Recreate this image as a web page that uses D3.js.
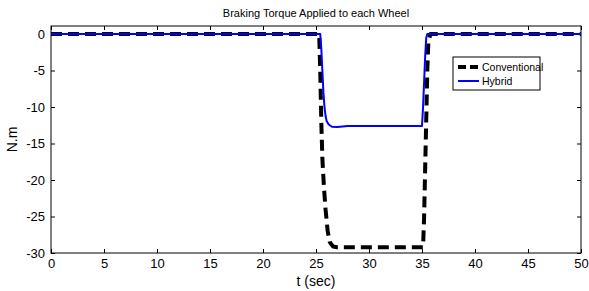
<!DOCTYPE html>
<html>
<head>
<meta charset="utf-8">
<script src="https://cdn.jsdelivr.net/npm/d3@7"></script>
<style>
  body { margin: 0; background: #fff; }
  svg { display: block; font-family: "Liberation Sans", Arial, sans-serif; }
</style>
</head>
<body>
<div class="chart"></div>
<script>
// values
const convT = [0, 25.3, 25.4, 25.5, 25.6, 25.75, 25.9, 26.1, 26.3, 26.6, 27, 35.1, 35.2, 35.35, 35.5, 35.6, 35.8, 50];
const convV = [0, 0, -5, -12, -17, -21, -24, -27, -28.5, -29.1, -29.2, -29.2, -25, -15, -5, -1, 0, 0];
const hybT = [0, 25.4, 25.5, 25.6, 25.7, 25.8, 25.9, 26.0, 26.2, 26.5, 27, 28, 35.0, 35.1, 35.3, 35.4, 35.5, 50];
const hybV = [0, 0, -2, -5, -8, -10, -11.2, -11.9, -12.4, -12.7, -12.75, -12.6, -12.6, -10, -3, -0.5, 0, 0];
const xTicks = [0, 5, 10, 15, 20, 25, 30, 35, 40, 45, 50];
const yTicks = [0, -5, -10, -15, -20, -25, -30];
const seriesNames = ["Conventional", "Hybrid"];

const width = 589;
const height = 291;
const marginTop = 26;
const marginRight = 8;
const marginBottom = 38;
const marginLeft = 51;

const x = d3.scaleLinear()
    .domain([0, 50])
    .range([marginLeft, width - marginRight]);

const y = d3.scaleLinear()
    .domain([-30, 1.1])
    .range([height - marginBottom, marginTop]);

const svg = d3.select('.chart').append("svg")
    .attr("width", width)
    .attr("height", height);

// axes box
svg.append("rect")
    .attr("x", marginLeft)
    .attr("y", marginTop)
    .attr("width", width - marginRight - marginLeft)
    .attr("height", height - marginBottom - marginTop)
    .attr("fill", "none")
    .attr("stroke", "#000")
    .attr("stroke-width", 1);

const plain = d => String(d);

// bottom axis
const gx = svg.append("g")
    .attr("transform", `translate(0,${height - marginBottom})`)
    .call(d3.axisBottom(x).tickValues(xTicks).tickFormat(plain).tickSizeInner(-4).tickSizeOuter(0).tickPadding(6));
// top ticks
const gxTop = svg.append("g")
    .attr("transform", `translate(0,${marginTop})`)
    .call(d3.axisTop(x).tickValues(xTicks).tickSizeInner(-4).tickSizeOuter(0).tickFormat(""));
// left axis
const gy = svg.append("g")
    .attr("transform", `translate(${marginLeft},0)`)
    .call(d3.axisLeft(y).tickValues(yTicks).tickFormat(plain).tickSizeInner(-4).tickSizeOuter(0).tickPadding(6));
// right ticks
const gyRight = svg.append("g")
    .attr("transform", `translate(${width - marginRight},0)`)
    .call(d3.axisRight(y).tickValues(yTicks).tickSizeInner(-4).tickSizeOuter(0).tickFormat(""));

[gx, gxTop, gy, gyRight].forEach(g => {
    g.select(".domain").remove();
    g.selectAll("line").attr("stroke", "#000");
    g.selectAll("text")
        .attr("fill", "#000")
        .style("font-size", "13px")
        .style("font-family", '"Liberation Sans", Arial, sans-serif');
});

// data lines
const line = d3.line()
    .x(d => x(d[0]))
    .y(d => y(d[1]));

const convData = convT.map((t, i) => [t, convV[i]]);
const hybData = hybT.map((t, i) => [t, hybV[i]]);

svg.append("path")
    .datum(convData)
    .attr("d", line)
    .attr("fill", "none")
    .attr("stroke", "#000")
    .attr("stroke-width", 4)
    .attr("stroke-dasharray", "11,6")
    .attr("stroke-linejoin", "round");

svg.append("path")
    .datum(hybData)
    .attr("d", line)
    .attr("fill", "none")
    .attr("stroke", "#0000ff")
    .attr("stroke-width", 2)
    .attr("stroke-linejoin", "round");

// title
svg.append("text")
    .attr("x", (marginLeft + width - marginRight) / 2)
    .attr("y", 17)
    .attr("text-anchor", "middle")
    .style("font-size", "11px")
    .text("Braking Torque Applied to each Wheel");

// axis labels
svg.append("text")
    .attr("x", (marginLeft + width - marginRight) / 2)
    .attr("y", 286)
    .attr("text-anchor", "middle")
    .style("font-size", "14px")
    .text("t (sec)");

svg.append("text")
    .attr("transform", `translate(17,${(marginTop + height - marginBottom) / 2}) rotate(-90)`)
    .attr("text-anchor", "middle")
    .style("font-size", "14px")
    .text("N.m");

// legend
const legend = svg.append("g").attr("transform", "translate(453,57)");
legend.append("rect")
    .attr("width", 87)
    .attr("height", 33)
    .attr("fill", "#fff")
    .attr("stroke", "#000")
    .attr("stroke-width", 1);

const legendStyles = [
    { stroke: "#000", width: 4, dash: "8,4" },
    { stroke: "#0000ff", width: 2, dash: null }
];

seriesNames.forEach((name, i) => {
    const yy = 10 + i * 14;
    legend.append("line")
        .attr("x1", 5)
        .attr("x2", 26)
        .attr("y1", yy)
        .attr("y2", yy)
        .attr("stroke", legendStyles[i].stroke)
        .attr("stroke-width", legendStyles[i].width)
        .attr("stroke-dasharray", legendStyles[i].dash);
    legend.append("text")
        .attr("x", 29)
        .attr("y", yy + 4)
        .style("font-size", "10.5px")
        .text(name);
});
</script>
</body>
</html>
